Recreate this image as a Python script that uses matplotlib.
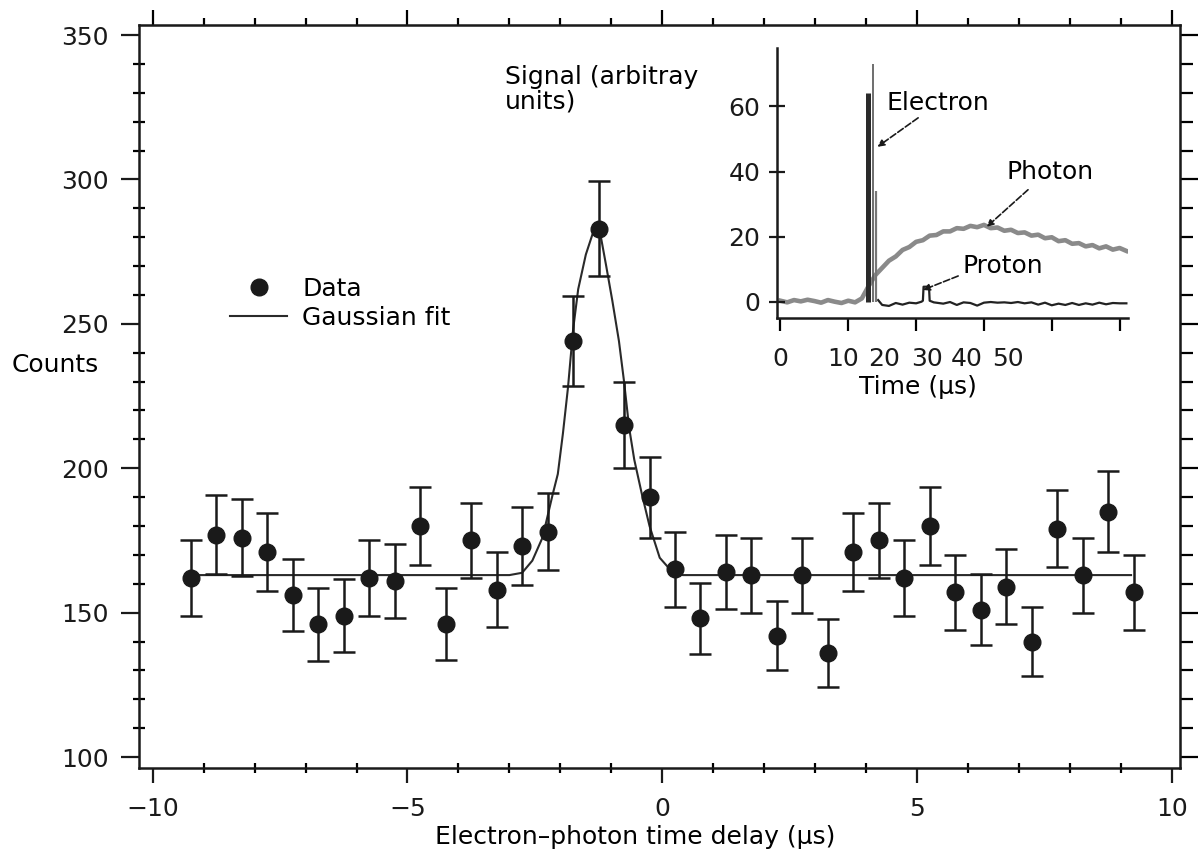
import matplotlib.pyplot as plt
from matplotlib.lines import Line2D
from matplotlib.ticker import MultipleLocator

plt.rcParams['font.family'] = ['DejaVu Sans']
plt.rcParams['font.size'] = 18

# main panel: coincidence counts vs electron-photon delay (us)
delay = [-9.25, -8.75, -8.25, -7.75, -7.25, -6.75, -6.25, -5.75, -5.25, -4.75,
         -4.25, -3.75, -3.25, -2.75, -2.25, -1.75, -1.25, -0.75, -0.25, 0.25,
         0.75, 1.25, 1.75, 2.25, 2.75, 3.25, 3.75, 4.25, 4.75, 5.25,
         5.75, 6.25, 6.75, 7.25, 7.75, 8.25, 8.75, 9.25]
counts = [162, 177, 176, 171, 156, 146, 149, 162, 161, 180,
          146, 175, 158, 173, 178, 244, 283, 215, 190, 165,
          148, 164, 163, 142, 163, 136, 171, 175, 162, 180,
          157, 151, 159, 140, 179, 163, 185, 157]
count_err = [13.0, 13.7, 13.4, 13.4, 12.5, 12.6, 12.7, 13.0, 12.8, 13.6,
             12.4, 13.0, 13.0, 13.5, 13.4, 15.5, 16.3, 15.0, 14.0, 12.9,
             12.4, 12.8, 13.0, 11.9, 13.0, 11.9, 13.6, 13.0, 13.2, 13.6,
             12.9, 12.3, 13.0, 12.1, 13.3, 13.0, 14.0, 12.9]

# gaussian fit curve
fit_delay = [-9.1, -3.0, -2.75, -2.55, -2.35, -2.15, -2.05, -1.95, -1.85, -1.75,
             -1.65, -1.5, -1.37, -1.24, -1.1, -0.98, -0.85, -0.75, -0.65, -0.55,
             -0.4, -0.25, -0.05, 0.15, 0.4, 9.2]
fit_counts = [163, 163, 163.8, 168, 176, 191, 198, 212, 228, 248,
              262, 274, 281, 283.5, 270, 258, 244, 230, 214, 203,
              191, 180, 169, 165, 163, 163]

# inset: detector signals vs time (us)
photon_t = list(range(52))
photon_sig = [0.3, -0.2, 0.5, 0.1, 0.6, 0.2, -0.3, 0.5, 0.0, -0.4, 0.3, -0.2, 1.0,
              4.8, 8.2, 10.4, 12.6, 13.9, 15.9, 16.8, 18.4, 18.9, 20.3, 20.5,
              21.6, 21.6, 22.6, 22.4, 23.3, 22.9, 23.6, 22.6, 22.8, 21.8, 22.1,
              21.1, 21.3, 20.3, 20.6, 19.5, 19.8, 18.6, 18.9, 17.8, 18.0, 17.0,
              17.4, 16.4, 17.0, 16.0, 16.5, 15.6]
proton_t = [14.4, 15, 16, 17, 18, 19, 20, 20.8, 21.0, 21.1, 21.9, 22.0, 22.6,
            24, 25, 26, 27, 28, 29, 30, 31, 32, 33, 34, 35, 36, 37,
            38, 39, 40, 41, 42, 43, 44, 45, 46, 47, 48, 49, 50, 51]
proton_sig = [0.5, -1.0, -1.3, -0.4, -0.9, -0.3, -0.5, 0.0, 0.3, 4.6, 4.6, 0.3, -0.2,
              -0.6, -0.1, -1.0, -0.2, -0.4, -1.2, -0.3, -0.1, -0.3, -0.2, -0.4, -0.1, -0.5, -0.2,
              -0.9, -0.3, -1.1, -0.6, -1.0, -0.4, -1.0, -0.5, -0.9, -0.3, -0.8, -0.4, -0.5, -0.5]
electron_t = [12.9, 13.6, 14.1]
electron_sig = [64, 73, 34]

ink = '#1a1a1a'

fig = plt.figure(figsize=(12.01, 8.52), dpi=100)
ax = fig.add_axes([0.1157, 0.0986, 0.8668, 0.8721])

ax.errorbar(delay, counts, yerr=count_err, fmt='o', ms=12, color=ink,
            ecolor=ink, elinewidth=1.8, capsize=8, capthick=1.8, zorder=3)
ax.plot(fit_delay, fit_counts, color='#2a2a2a', lw=1.5, zorder=2)

ax.set_xlim(-10.27, 10.16)
ax.set_ylim(96.2, 353.5)
ax.xaxis.set_major_locator(MultipleLocator(5))
ax.xaxis.set_minor_locator(MultipleLocator(1))
ax.yaxis.set_major_locator(MultipleLocator(50))
ax.yaxis.set_minor_locator(MultipleLocator(10))
for s in ax.spines.values():
    s.set_linewidth(1.8)
    s.set_color(ink)
ax.tick_params(axis='x', which='major', direction='out', length=11, width=1.6, pad=10, colors=ink)
ax.tick_params(axis='x', which='minor', direction='inout', length=7, width=1.6)
ax.tick_params(axis='y', which='major', direction='out', length=13, width=1.6, pad=9, colors=ink)
ax.tick_params(axis='y', which='minor', direction='inout', length=9, width=1.6)

top = ax.secondary_xaxis('top')
top.xaxis.set_major_locator(MultipleLocator(5))
top.xaxis.set_minor_locator(MultipleLocator(1))
top.tick_params(which='major', direction='out', length=11, width=1.6, labeltop=False)
top.tick_params(which='minor', direction='out', length=5, width=1.6)
right = ax.secondary_yaxis('right')
right.yaxis.set_major_locator(MultipleLocator(50))
right.yaxis.set_minor_locator(MultipleLocator(10))
right.tick_params(which='major', direction='out', length=13, width=1.6, labelright=False)
right.tick_params(which='minor', direction='out', length=9, width=1.6)

ax.set_xlabel('Electron\u2013photon time delay (\u00b5s)')
ax.xaxis.set_label_coords(0.4765, -0.093)
ax.xaxis.label.set_va('center')
ax.set_ylabel('Counts', rotation=0, ha='left', va='center')
ax.yaxis.set_label_coords(-0.122, 0.5424)

handles = [Line2D([], [], marker='o', ls='none', ms=12, color=ink),
           Line2D([], [], color='#2a2a2a', lw=1.5)]
ax.legend(handles, ['Data', 'Gaussian fit'], loc='upper left',
          bbox_to_anchor=(0.0874, 0.661), frameon=False, borderpad=0,
          borderaxespad=0, handlelength=2.3, handletextpad=0.6, labelspacing=0.2)

# inset with the raw signals
ins = fig.add_axes([0.647, 0.6268, 0.292, 0.317])
ins.plot(photon_t, photon_sig, color='#8a8a8a', lw=3.3, zorder=1)
ins.plot(proton_t, proton_sig, color='#222222', lw=1.6, zorder=2)
ins.vlines(electron_t, 0, electron_sig, colors=['#2a2a2a', '#555555', '#777777'],
           linewidths=[3.6, 1.2, 1.6], zorder=3)

ins.set_xlim(-0.5, 51.2)
ins.set_ylim(-5, 78)
ins.spines['top'].set_visible(False)
ins.spines['right'].set_visible(False)
for s in ['left', 'bottom']:
    ins.spines[s].set_linewidth(1.8)
    ins.spines[s].set_color(ink)
ins.set_yticks([0, 20, 40, 60])
ins.tick_params(axis='y', direction='inout', length=12, width=1.6, pad=6, colors=ink)
ins.set_xticks([0, 10, 20, 30, 40, 50], ['', '', '', '', '', ''])
ins.tick_params(axis='x', which='major', direction='out', length=9, width=1.6)
# the printed labels sit off their tick marks in the source figure
ins.xaxis.remove_overlapping_locs = False
ins.set_xticks([0, 9.3, 15.3, 21.6, 27.4, 33.5], ['0', '10', '20', '30', '40', '50'], minor=True)
ins.tick_params(axis='x', which='minor', length=0, pad=21, colors=ink)
ins.set_xlabel('Time (\u00b5s)')
ins.xaxis.set_label_coords(0.402, -0.256)
ins.xaxis.label.set_va('center')
ins.patch.set_alpha(0)

ins.text(-0.775, 0.937, 'Signal (arbitray\nunits)', transform=ins.transAxes,
         ha='left', va='top', linespacing=1.05)

arrow = dict(arrowstyle='-|>', color=ink, lw=1.2, ls=(0, (4, 1.5)),
             mutation_scale=10, shrinkA=0, shrinkB=0)
ins.text(15.7, 61.1, 'Electron', ha='left', va='center')
ins.annotate('', xy=(14.3, 47.6), xytext=(20.3, 56.5), arrowprops=arrow)
ins.text(33.4, 39.9, 'Photon', ha='left', va='center')
ins.annotate('', xy=(30.4, 23.0), xytext=(36.5, 34.4), arrowprops=arrow)
ins.text(26.8, 11.0, 'Proton', ha='left', va='center')
ins.annotate('', xy=(21.0, 3.6), xytext=(26.2, 7.9), arrowprops=arrow)

fig.savefig('out.png', dpi=100)
